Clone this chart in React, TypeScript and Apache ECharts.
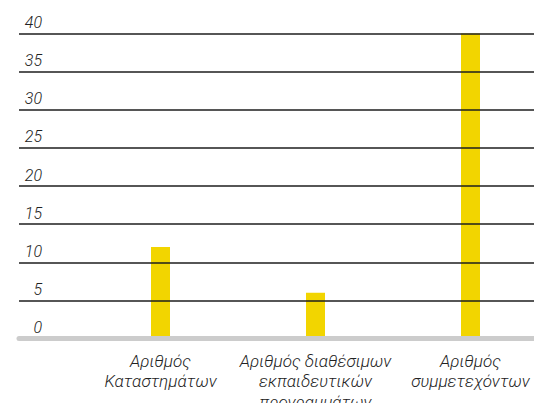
import React, { useEffect, useRef } from "react";
import * as echarts from "echarts";

const categories = [
  "Αριθμός\nΚαταστημάτων",
  "Αριθμός διαθέσιμων\nεκπαιδευτικών\nπρογραμμάτων",
  "Αριθμός\nσυμμετεχόντων",
];
const values = [12, 6, 40];
const yMin = 0;
const yMax = 40;
const yStep = 5;

const FONT = "Roboto";

export default function App() {
  const ref = useRef<HTMLDivElement>(null);
  useEffect(() => {
    if (!ref.current) return;
    const chart = echarts.init(ref.current, null, { renderer: "svg" });
    chart.setOption({
      animation: false,
      backgroundColor: "#ffffff",
      grid: [
        { left: 83, width: 465, top: 33.5, height: 305, outerBoundsMode: "none", containLabel: false },
        { left: 19, width: 515, top: 33.5, height: 305, outerBoundsMode: "none", containLabel: false },
      ],
      xAxis: [
        {
          type: "category",
          gridIndex: 0,
          data: categories,
          axisLine: { show: false },
          axisTick: { show: false },
          splitLine: { show: false },
          axisLabel: {
            interval: 0,
            margin: 12,
            fontFamily: FONT,
            fontStyle: "italic",
            fontWeight: 300,
            fontSize: 17,
            lineHeight: 20.5,
            color: "#222222",
          },
        },
        {
          type: "category",
          gridIndex: 1,
          data: ["", "", ""],
          z: 6,
          axisLine: { show: true, lineStyle: { color: "#cccccc", width: 5 } },
          axisTick: { show: false },
          axisLabel: { show: false },
          splitLine: { show: false },
        },
      ],
      yAxis: [
        {
          type: "value",
          gridIndex: 0,
          min: yMin,
          max: yMax,
          interval: yStep,
          show: false,
          splitLine: { show: false },
        },
        {
          type: "value",
          gridIndex: 1,
          min: yMin,
          max: yMax,
          interval: yStep,
          z: 5,
          axisLine: { show: false },
          axisTick: { show: false },
          splitLine: { show: true, lineStyle: { color: "#1e1e1e", width: 1.5 } },
          axisLabel: {
            margin: -23,
            align: "right",
            verticalAlign: "bottom",
            padding: [0, 0, 3, 0],
            fontFamily: FONT,
            fontStyle: "italic",
            fontWeight: 300,
            fontSize: 16,
            color: "#222222",
          },
        },
      ],
      series: [
        {
          type: "bar",
          xAxisIndex: 0,
          yAxisIndex: 0,
          data: values,
          barWidth: 19,
          z: 1,
          itemStyle: { color: "#f2d500" },
        },
      ],
    });
    return () => chart.dispose();
  }, []);
  return (
    <div style={{ position: "absolute", left: 0, top: 0, width: 534, height: 403, overflow: "hidden" }}>
      <div ref={ref} style={{ width: 560, height: 403 }} />
    </div>
  );
}
